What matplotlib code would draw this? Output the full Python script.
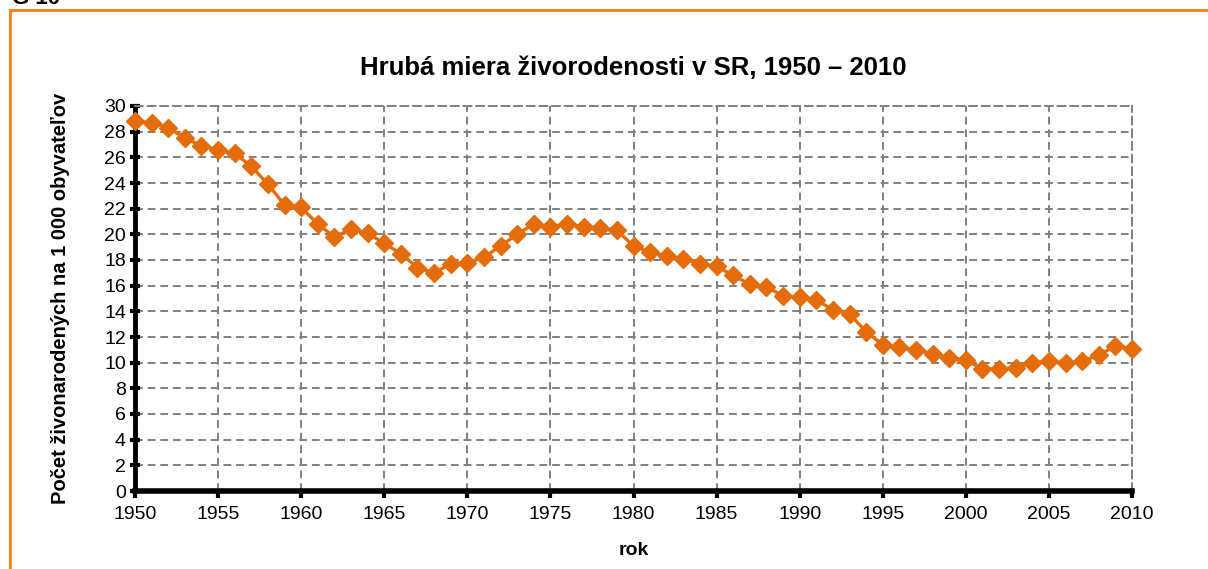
import matplotlib.pyplot as plt
from matplotlib.lines import Line2D

plt.rcParams['font.family'] = ['Liberation Sans', 'DejaVu Sans']

# ===============================
# Data: crude birth rate, Slovakia
# ===============================
years = list(range(1950, 2011))
birth_rate = [
    28.8, 28.7, 28.3, 27.5, 26.9, 26.6, 26.3, 25.3, 23.9, 22.3,
    22.1, 20.8, 19.8, 20.4, 20.1, 19.3, 18.5, 17.4, 17.0, 17.7,
    17.8, 18.2, 19.1, 20.0, 20.8, 20.6, 20.8, 20.6, 20.5, 20.3,
    19.1, 18.6, 18.3, 18.1, 17.7, 17.5, 16.8, 16.1, 15.9, 15.2,
    15.1, 14.9, 14.1, 13.8, 12.4, 11.4, 11.2, 11.0, 10.7, 10.4,
    10.2, 9.5, 9.5, 9.6, 10.0, 10.1, 10.0, 10.1, 10.6, 11.3,
    11.1,
]
x_ticks = list(range(1950, 2011, 5))
y_ticks = list(range(0, 31, 2))

orange = "#E46C0A"

fig = plt.figure(figsize=(12.08, 5.69), dpi=100)
ax = fig.add_axes([135 / 1208, 78 / 569, 997 / 1208, 385 / 569])

ax.plot(years, birth_rate, color=orange, linewidth=2.4, marker="D",
        markersize=9, markerfacecolor=orange, markeredgecolor=orange,
        zorder=3, clip_on=False)

ax.set_xlim(1950, 2010)
ax.set_ylim(0, 30)
ax.set_xticks(x_ticks)
ax.set_yticks(y_ticks)
ax.tick_params(axis="both", labelsize=14, colors="black")
ax.tick_params(axis="y", direction="inout", length=7, width=3, pad=3)
ax.tick_params(axis="x", direction="out", length=5, width=3, pad=6)

ax.grid(True, color="#808080", linestyle=(0, (4, 2.5)), linewidth=1.4)
ax.set_axisbelow(True)

for side in ("top", "right"):
    ax.spines[side].set_color("#808080")
    ax.spines[side].set_linestyle((0, (4, 2.5)))
    ax.spines[side].set_linewidth(1.4)
ax.spines["left"].set_color("black")
ax.spines["left"].set_linewidth(3.5)
ax.spines["left"].set_linestyle((0, (3, 1)))
ax.spines["bottom"].set_color("black")
ax.spines["bottom"].set_linewidth(4)
ax.spines["bottom"].set_zorder(4)

ax.set_title("Hrubá miera živorodenosti v SR, 1950 – 2010",
             fontsize=18.5, fontweight="bold", pad=22)
ax.set_xlabel("rok", fontsize=14, fontweight="bold")
ax.set_ylabel("Počet živonarodených na 1 000 obyvateľov",
              fontsize=14.5, fontweight="bold")
ax.xaxis.set_label_coords(0.5, (491 - 542) / 385)
ax.yaxis.set_label_coords((70 - 135) / 997, 0.5)

# orange frame around the chart area
fig.add_artist(Line2D([10 / 1208, 10 / 1208], [1 - 10 / 569, -0.05],
                      color="#F07F1E", linewidth=2, transform=fig.transFigure))
fig.add_artist(Line2D([10 / 1208, 1.05], [1 - 10 / 569, 1 - 10 / 569],
                      color="#F07F1E", linewidth=2, transform=fig.transFigure))

# cut-off figure label at the top-left
fig.text(12 / 1208, 1 - 4 / 569, "G 10", fontsize=16, fontweight="bold",
         va="baseline", ha="left")

fig.savefig("out.png", dpi=100)
